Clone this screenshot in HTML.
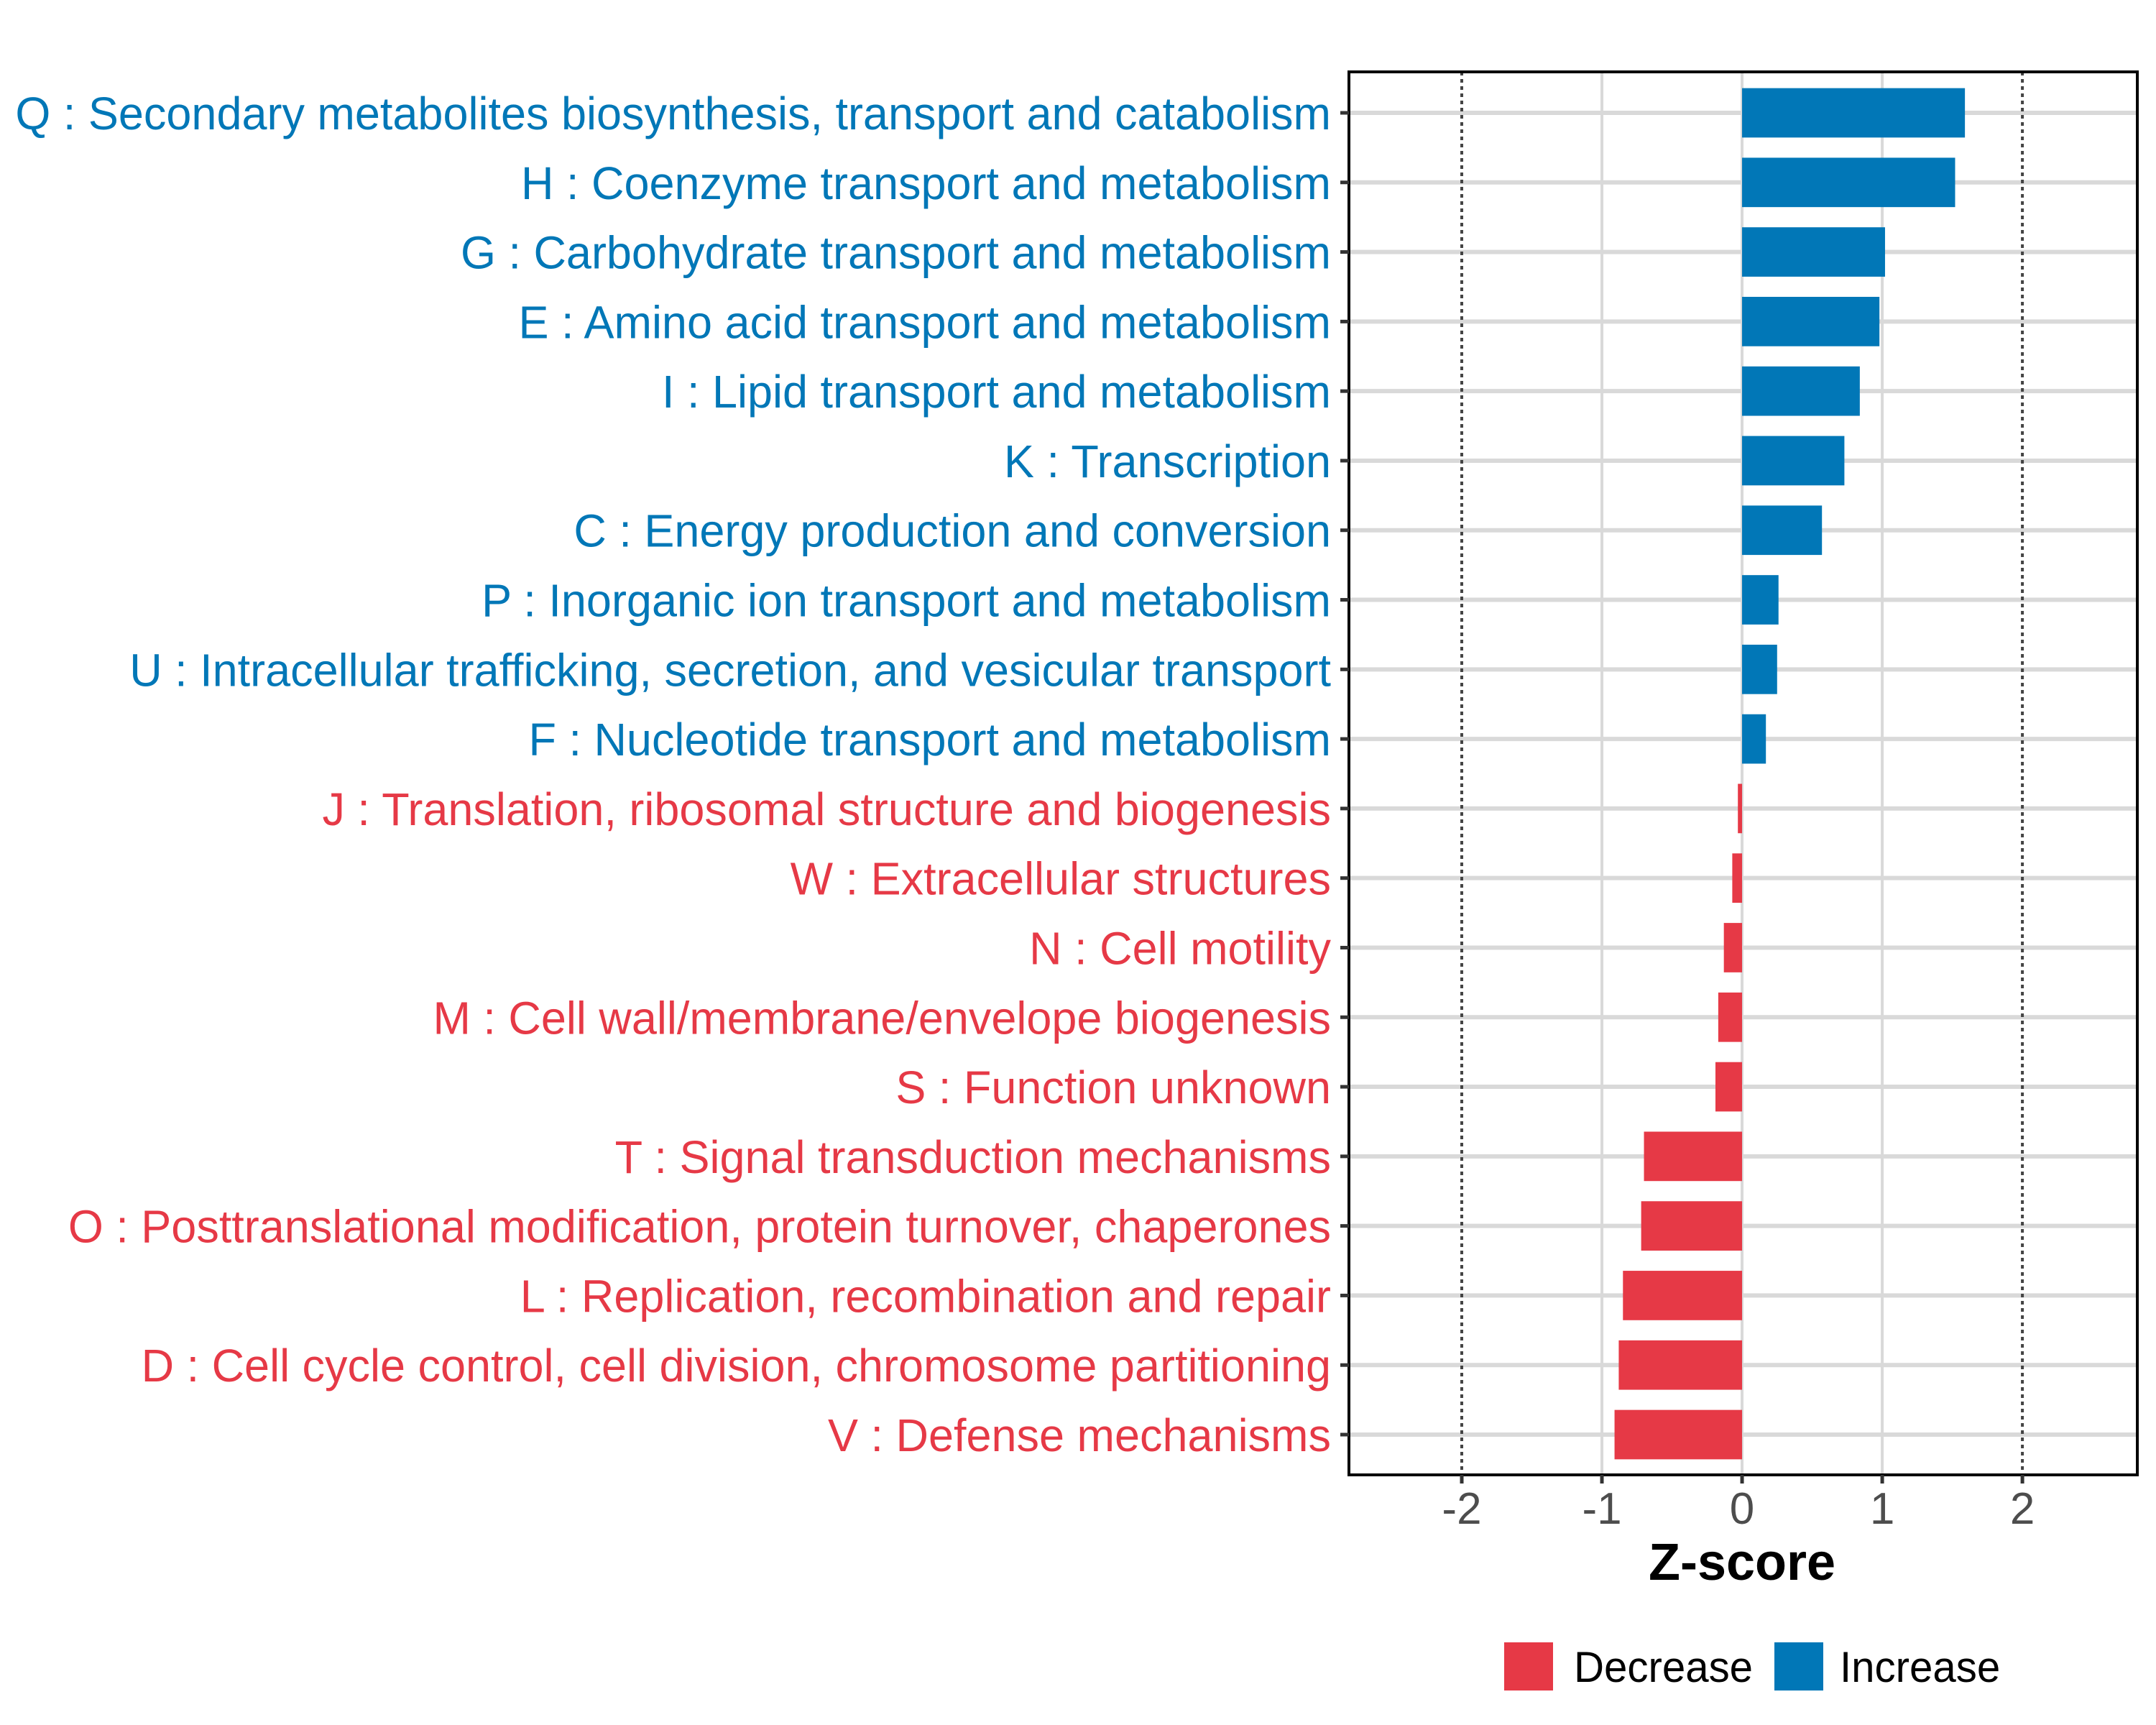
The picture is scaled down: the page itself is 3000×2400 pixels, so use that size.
<!DOCTYPE html>
<html><head><meta charset="utf-8"><style>body{margin:0;background:#fff}svg{display:block}</style></head>
<body>
<svg id="chart" width="3000" height="2400" viewBox="0 0 3000 2400" xmlns="http://www.w3.org/2000/svg" font-family="'Liberation Sans', Arial, sans-serif"></svg>
<script>
const categories = [
 "Q : Secondary metabolites biosynthesis, transport and catabolism",
 "H : Coenzyme transport and metabolism",
 "G : Carbohydrate transport and metabolism",
 "E : Amino acid transport and metabolism",
 "I : Lipid transport and metabolism",
 "K : Transcription",
 "C : Energy production and conversion",
 "P : Inorganic ion transport and metabolism",
 "U : Intracellular trafficking, secretion, and vesicular transport",
 "F : Nucleotide transport and metabolism",
 "J : Translation, ribosomal structure and biogenesis",
 "W : Extracellular structures",
 "N : Cell motility",
 "M : Cell wall/membrane/envelope biogenesis",
 "S : Function unknown",
 "T : Signal transduction mechanisms",
 "O : Posttranslational modification, protein turnover, chaperones",
 "L : Replication, recombination and repair",
 "D : Cell cycle control, cell division, chromosome partitioning",
 "V : Defense mechanisms"
];
const zscores = [1.59,1.52,1.02,0.98,0.84,0.73,0.57,0.26,0.25,0.17,-0.03,-0.07,-0.13,-0.17,-0.19,-0.70,-0.72,-0.85,-0.88,-0.91];
const xTicks = [-2,-1,0,1,2];
const xTickLabels = ["-2","-1","0","1","2"];
const legendLabels = ["Decrease","Increase"];

const NS="http://www.w3.org/2000/svg";
const svg=document.getElementById('chart');
const P={l:1877,r:2974,t:100,b:2052};
const xMin=-2.805,xMax=2.82;
const x=v=>P.l+(v-xMin)/(xMax-xMin)*(P.r-P.l);
const yTop=157,yBot=1996;
const step=(yBot-yTop)/(categories.length-1);
const y=i=>yTop+i*step;
const BLUE="#0177B7",RED="#E63946";
function mk(tag,attrs,parent){const e=document.createElementNS(NS,tag);for(const k in attrs)e.setAttribute(k,attrs[k]);(parent||svg).appendChild(e);return e;}

categories.forEach((c,i)=>{
 const g=mk('line',{x1:P.l,x2:P.r,y1:y(i),y2:y(i),stroke:'#d9d9d9','stroke-width':6});
 
 
});
xTicks.forEach(t=>{
 if(Math.abs(t)===2)return;
 const g=mk('line',{x1:x(t),x2:x(t),y1:P.t,y2:P.b,stroke:'#d9d9d9','stroke-width':4});
 
 
});
zscores.forEach((v,i)=>{
 const h=step*0.71;
 const r=mk('rect',{x:Math.min(x(0),x(v)),y:y(i)-h/2,width:Math.abs(x(v)-x(0)),height:h,fill:v>=0?BLUE:RED});
 
 
});
[-2,2].forEach(t=>{
 const l=mk('line',{x1:x(t),x2:x(t),y1:P.t,y2:P.b,stroke:'#444','stroke-width':4,'stroke-dasharray':'5 5'});
 
 
});
const fr=mk('rect',{x:P.l,y:P.t,width:P.r-P.l,height:P.b-P.t,fill:'none',stroke:'#000','stroke-width':4});


categories.forEach((c,i)=>{
 const tk=mk('line',{x1:P.l-12,x2:P.l,y1:y(i),y2:y(i),stroke:'#333','stroke-width':5});
 
 
 const t=mk('text',{transform:`translate(1852,${y(i)+23}) scale(0.984,1)`,'text-anchor':'end','font-size':64,fill:zscores[i]>=0?BLUE:RED});
 t.textContent=c;
 
 
});
xTicks.forEach((t,k)=>{
 const tk=mk('line',{x1:x(t),x2:x(t),y1:P.b,y2:P.b+12,stroke:'#333','stroke-width':5});
 
 
 const tl=mk('text',{transform:`translate(${x(t)},2120)`,'text-anchor':'middle','font-size':62,fill:'#4d4d4d'});
 tl.textContent=xTickLabels[k];
 
 
});
const xt=mk('text',{transform:`translate(${x(0)},2198)`,'text-anchor':'middle','font-size':72,'font-weight':'bold',fill:'#000'});
xt.textContent='Z-score';


const lx=[2093,2469],tx=[2190,2560],lc=[RED,BLUE];
legendLabels.forEach((lab,k)=>{
 const b=mk('rect',{x:lx[k],y:2285,width:68,height:67,fill:lc[k]});
 
 
 const t=mk('text',{transform:`translate(${tx[k]},2340) scale(0.97,1)`,'font-size':60,fill:'#000'});
 t.textContent=lab;
 
 
});
</script>
</body></html>
